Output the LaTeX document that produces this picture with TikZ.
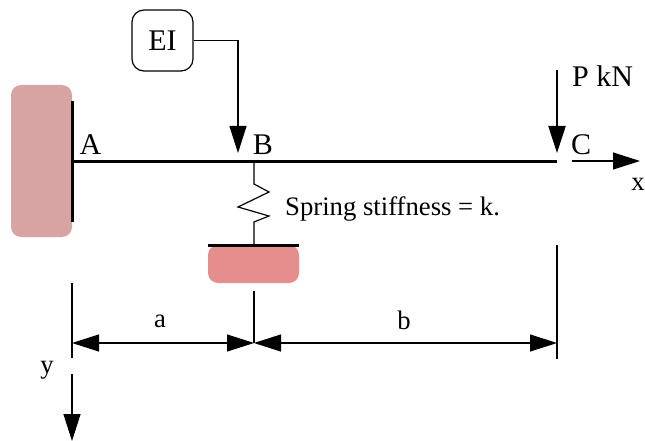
\documentclass[tikz,border=0pt]{standalone}
\usepackage{fontspec}
\setmainfont{Liberation Serif}
\usetikzlibrary{arrows.meta}

\definecolor{wallred}{HTML}{D7A3A3}
\definecolor{baser}{HTML}{E68E8E}
\tikzset{
    bigtip/.style={-{Triangle[length=27pt,width=17pt]}},
    dimtip/.style={{Triangle[length=27pt,width=17pt]}-{Triangle[length=27pt,width=17pt]}},
    thinline/.style={line width=1.2pt},
    heavyline/.style={line width=3pt},
    lbl/.style={font=\fontsize{26.7}{30}\selectfont,inner sep=0pt},
    biglbl/.style={font=\fontsize{30}{34}\selectfont,inner sep=0pt},
}

\begin{document}
\begin{tikzpicture}[x=1pt,y=-1pt]
    \useasboundingbox (0,0) rectangle (645,441);
    \clip (0,0) rectangle (645,441);

    \coordinate (A) at (72,161);
    \coordinate (B) at (254,161);
    \coordinate (C) at (557,161);
    \coordinate (wallT) at (72,101);
    \coordinate (wallB) at (72,222);
    \coordinate (baseL) at (208,245);
    \coordinate (baseR) at (299,245);
    \coordinate (baseM) at (254,245);

    % supports
    \fill[wallred,rounded corners=10pt] (11,85) rectangle (72,237);
    \fill[baser,rounded corners=10pt] (208,245) rectangle (299,283);
    \draw[heavyline] (wallT) -- (wallB);
    \draw[heavyline] (baseL) -- (baseR);

    % beam
    \draw[heavyline] (A) -- (C);

    % spring
    \draw[thinline] (B) -- (254,184) -- (269,192) -- (238,207) -- (269,216) -- (254,222) -- (baseM);

    % EI box
    \node[draw,thinline,rounded corners=12pt,minimum width=61pt,minimum height=61pt,biglbl] (EI) at (162.5,40.5) {EI};
    \coordinate (eiTip) at (238,153);
    \draw[thinline,bigtip] (EI.east) -| (eiTip);

    % load
    \coordinate (loadT) at (557,70);
    \coordinate (loadTip) at (557,153);
    \draw[line width=2.2pt,bigtip] (loadT) -- (loadTip);

    % dimensions
    \coordinate (dimA) at (72,343);
    \coordinate (dimB) at (254,343);
    \coordinate (dimC) at (557,343);
    \draw[thinline] (72,283) -- (72,358);
    \draw[thinline] (254,291) -- (dimB);
    \draw[thinline] (557,245) -- (557,359);
    \draw[thinline,dimtip] (dimA) -- (dimB);
    \draw[thinline,dimtip] (dimB) -- (dimC);

    % axes
    \coordinate (xS) at (572,161);
    \coordinate (xE) at (640,161);
    \coordinate (yS) at (72,374);
    \coordinate (yE) at (72,441);
    \draw[thinline,bigtip] (xS) -- (xE);
    \draw[thinline,bigtip] (yS) -- (yE);

    % labels
    \node[biglbl] (lA) at (90.5,145) {A};
    \node[biglbl] (lB) at (263,145) {B};
    \node[biglbl] (lC) at (581,145) {C};
    \node[biglbl] (lP) at (602.5,76) {P kN};
    \node[lbl,anchor=west] (lS) at (285,209) {Spring stiffness = k.};
    \node[lbl] (la) at (160,321) {a};
    \node[lbl] (lb) at (404,320) {b};
    \node[lbl] (ly) at (47,370) {y};
    \node[lbl,anchor=east] (lx) at (645,184) {x};
\end{tikzpicture}
\end{document}
